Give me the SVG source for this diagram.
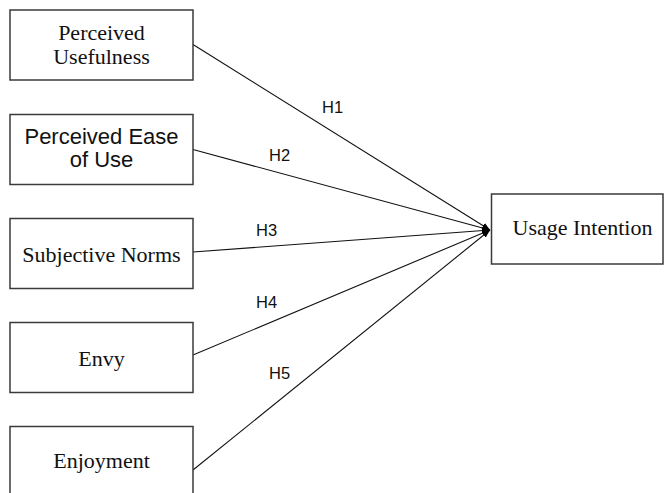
<svg xmlns="http://www.w3.org/2000/svg" width="664" height="493" viewBox="0 0 664 493">
<defs>
<style>
.box{fill:#fff;stroke:#3a3a3a;stroke-width:1.5}
.tn{font-family:"Liberation Serif","Times New Roman",serif;font-size:22px;fill:#111;text-anchor:middle}
.ar{font-family:"Liberation Sans",Arial,sans-serif;font-size:22px;fill:#111;text-anchor:middle}
.h{font-family:"Liberation Sans",Arial,sans-serif;font-size:16.5px;fill:#111}
.ln{stroke:#111;stroke-width:1.1;fill:none}
</style>
<marker id="arr" markerWidth="8" markerHeight="8" refX="8" refY="4" orient="auto" markerUnits="userSpaceOnUse">
<path d="M0,0.8 L8,4 L0,7.2 Z" fill="#000"/>
</marker>
</defs>
<rect width="664" height="493" fill="#fff"/>
<g id="connectors">
<line class="ln" x1="193" y1="44.5" x2="490" y2="230" marker-end="url(#arr)"/>
<line class="ln" x1="193" y1="149.5" x2="490" y2="230" marker-end="url(#arr)"/>
<line class="ln" x1="193" y1="252" x2="490" y2="230" marker-end="url(#arr)"/>
<line class="ln" x1="193" y1="355" x2="490" y2="230" marker-end="url(#arr)"/>
<line class="ln" x1="193" y1="470" x2="490" y2="230" marker-end="url(#arr)"/>
<text class="h" x="322" y="113">H1</text>
<text class="h" x="269" y="161">H2</text>
<text class="h" x="256" y="236">H3</text>
<text class="h" x="256" y="308">H4</text>
<text class="h" x="269" y="379">H5</text>
</g>
<g id="n1"><rect class="box" x="10" y="10" width="183" height="70"/><text class="tn" x="101.5" y="40">Perceived</text><text class="tn" x="101.5" y="64">Usefulness</text></g>
<g id="n2"><rect class="box" x="10" y="114.5" width="183" height="70"/><text class="ar" x="101.5" y="144">Perceived Ease</text><text class="ar" x="101.5" y="167">of Use</text></g>
<g id="n3"><rect class="box" x="10" y="218.5" width="183" height="70"/><text class="tn" x="101.5" y="262">Subjective Norms</text></g>
<g id="n4"><rect class="box" x="10" y="322.5" width="183" height="70"/><text class="tn" x="101.5" y="366">Envy</text></g>
<g id="n5"><rect class="box" x="10" y="426.5" width="183" height="80"/><text class="tn" x="101.5" y="468">Enjoyment</text></g>
<g id="n6"><rect class="box" x="491.5" y="194" width="171.5" height="70"/><text class="tn" x="582.5" y="235">Usage Intention</text></g>
</svg>
